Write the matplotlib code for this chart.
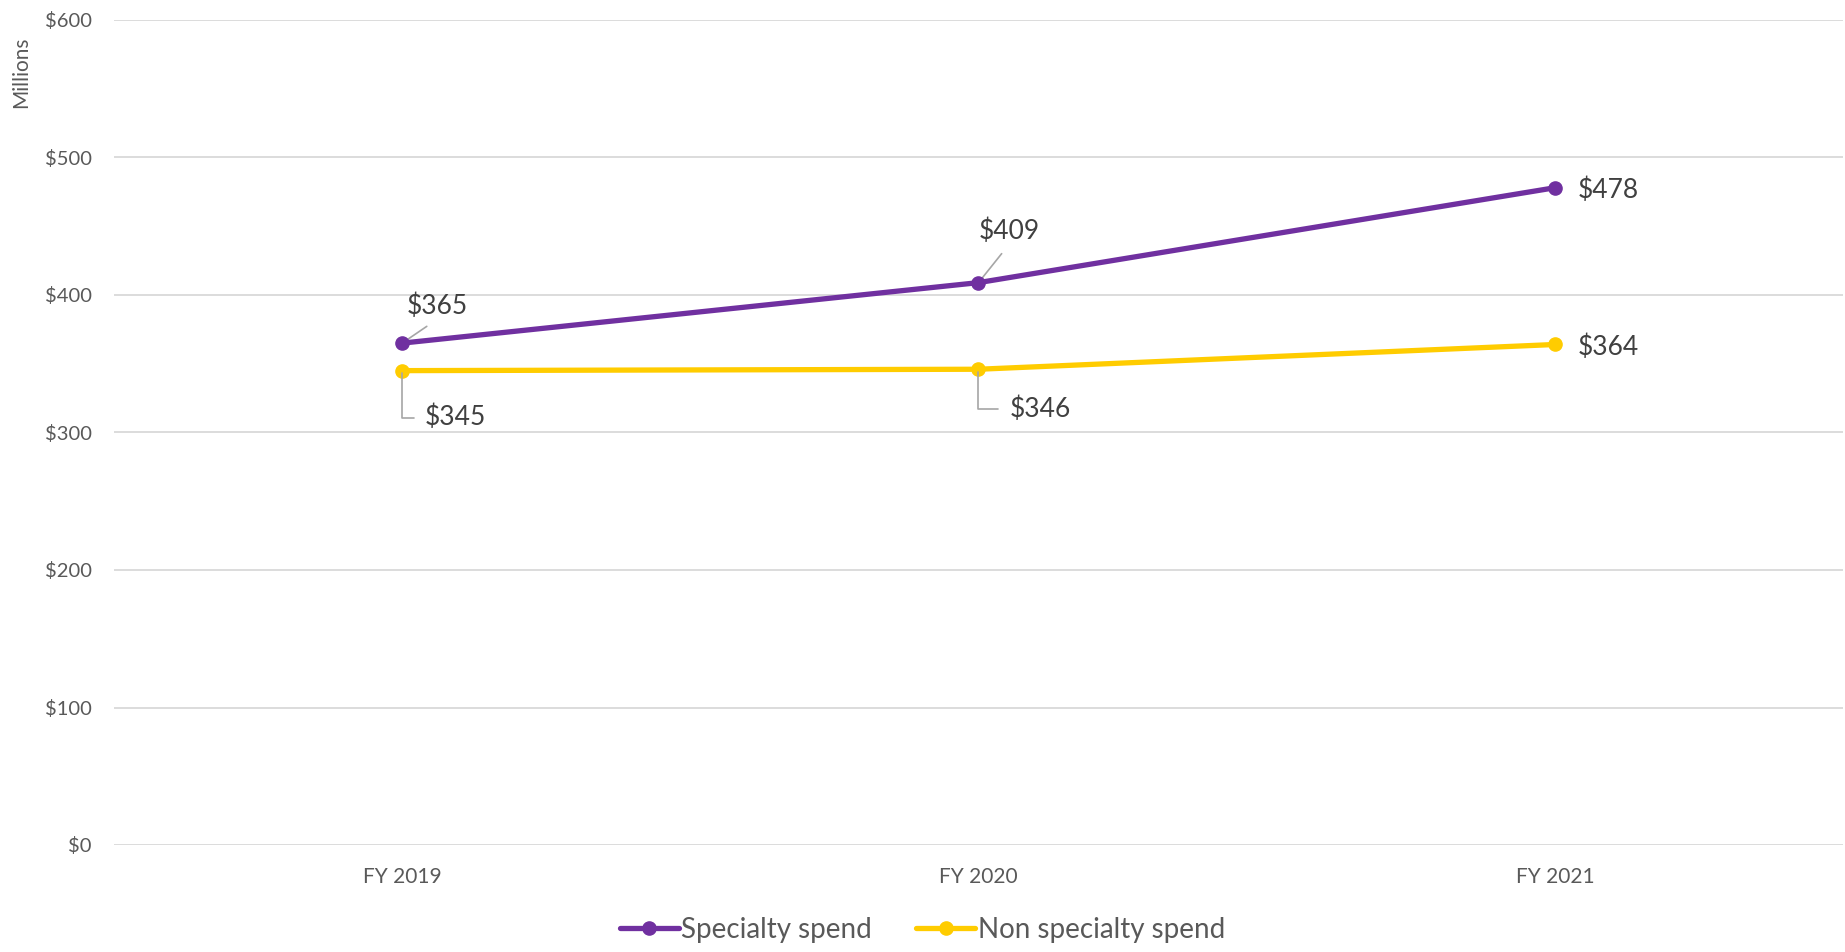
import matplotlib
matplotlib.use("Agg")
import matplotlib.pyplot as plt

categories = ["FY 2019", "FY 2020", "FY 2021"]
specialty = [365, 409, 478]
non_specialty = [345, 346, 364]
yticks = [0, 100, 200, 300, 400, 500, 600]
ytick_labels = ["$0", "$100", "$200", "$300", "$400", "$500", "$600"]

plt.rcParams['font.family'] = ['Lato', 'DejaVu Sans']

W, H = 1845, 952
fig = plt.figure(figsize=(W / 100, H / 100), dpi=100)
ax = fig.add_axes([114 / W, 1 - 845 / H, (1843 - 114) / W, (845 - 20) / H])

purple = "#7030A0"
gold = "#FFCC00"
x = list(range(len(categories)))

ax.plot(x, specialty, color=purple, lw=3.8, marker='o', ms=9.5, label="Specialty spend",
        solid_capstyle='round', zorder=4)
ax.plot(x, non_specialty, color=gold, lw=3.8, marker='o', ms=9.5, label="Non specialty spend",
        solid_capstyle='round', zorder=3)

ax.set_xlim(-0.5, 2.5)
ax.set_ylim(0, 600)
ax.set_yticks(yticks)
ax.set_yticklabels(ytick_labels)
ax.set_xticks(x)
ax.set_xticklabels(categories)
ax.tick_params(axis='y', length=0, pad=16, labelsize=14.5, labelcolor="#595959")
ax.tick_params(axis='x', length=0, pad=16, labelsize=15, labelcolor="#595959")
ax.grid(axis='y', color="#D9D9D9", lw=1.3)
ax.set_axisbelow(True)
for s in ax.spines.values():
    s.set_visible(False)

lab_col = "#404040"
lead_col = "#A6A6A6"
fs = 19

# specialty labels
offsets_spec = [(5, 37), (0, 51), (23, -3)]
for i, v in enumerate(specialty):
    dx, dy = offsets_spec[i]
    if i < 2:
        ax.annotate(f"${v}", xy=(i, v), xytext=(dx, dy), textcoords='offset pixels',
                    ha='left', va='center', fontsize=fs, color=lab_col,
                    arrowprops=dict(arrowstyle='-', color=lead_col, lw=1.2,
                                    relpos=(0.5, 0), shrinkA=6, shrinkB=2))
    else:
        ax.annotate(f"${v}", xy=(i, v), xytext=(dx, dy), textcoords='offset pixels',
                    ha='left', va='center', fontsize=fs, color=lab_col)

offsets_non = [(23, -47), (31, -40), (23, -3)]
for i, v in enumerate(non_specialty):
    dx, dy = offsets_non[i]
    if i < 2:
        ax.annotate(f"${v}", xy=(i, v), xytext=(dx, dy), textcoords='offset pixels',
                    ha='left', va='center', fontsize=fs, color=lab_col,
                    arrowprops=dict(arrowstyle='-', color=lead_col, lw=1.2,
                                    relpos=(0, 0.5), shrinkA=6, shrinkB=2,
                                    connectionstyle="angle,angleA=0,angleB=90,rad=0"))
    else:
        ax.annotate(f"${v}", xy=(i, v), xytext=(dx, dy), textcoords='offset pixels',
                    ha='left', va='center', fontsize=fs, color=lab_col)

fig.text(21 / W, 1 - 72 / H, "Millions", rotation=90, ha='center', va='center',
         fontsize=15, color="#595959")

leg = fig.legend(loc='center', bbox_to_anchor=(0.5, 1 - 930 / H), ncol=2, frameon=False,
                 fontsize=20, handlelength=2.1, handletextpad=0.1, columnspacing=1.6,
                 labelcolor="#595959")

fig.savefig("out.png", dpi=100)
